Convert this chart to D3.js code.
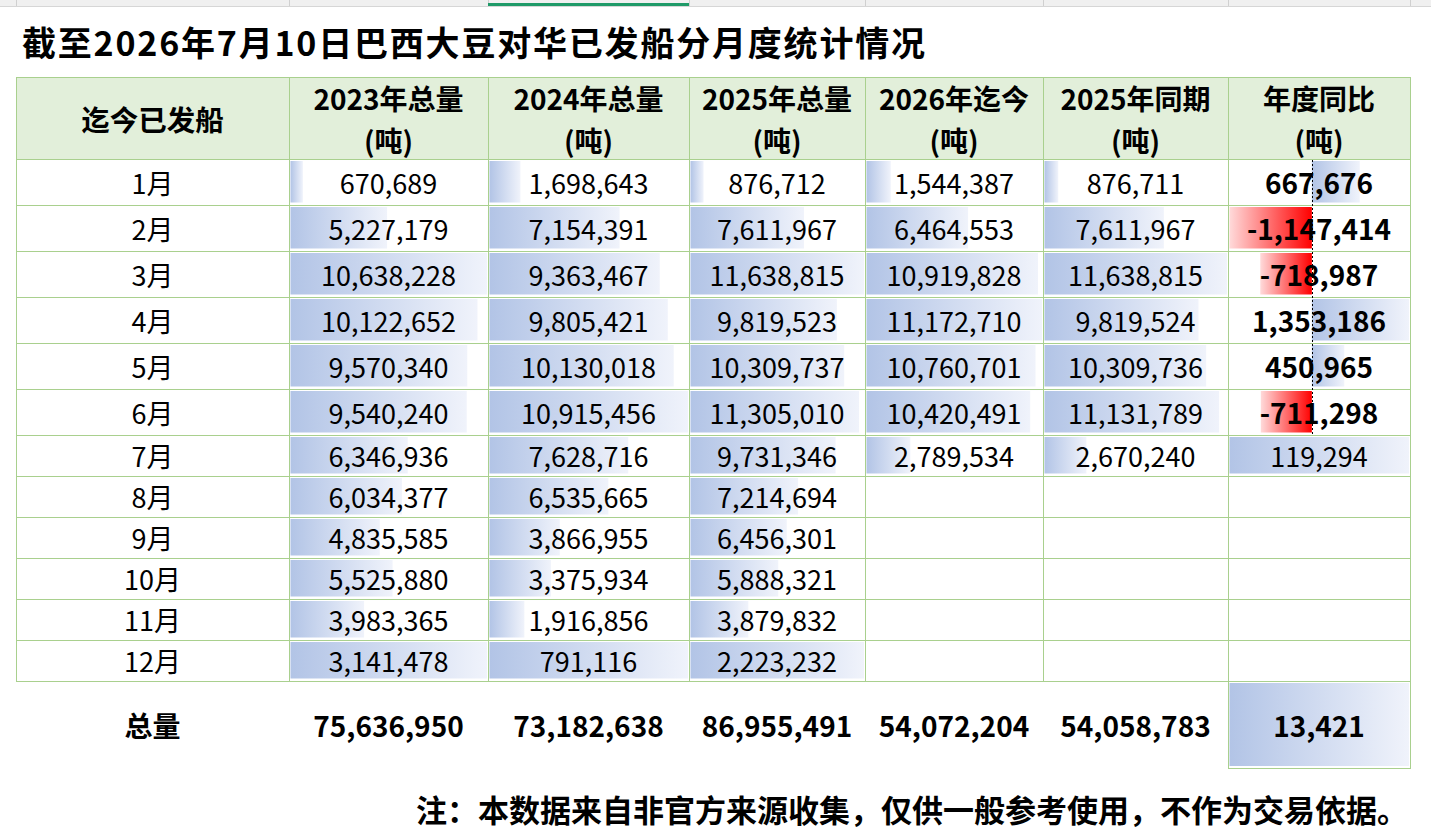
<!DOCTYPE html>
<html lang="zh">
<head>
<meta charset="UTF-8">
<title>巴西大豆对华已发船分月度统计</title>
<script src="https://d3js.org/d3.v7.min.js"></script>
<style>
    body { margin: 0; background: #fff; }
    svg text { font-family: "Noto Sans CJK SC", "Noto Sans", sans-serif; fill: #000; }
</style>
</head>
<body>
<svg id="viz"></svg>
<script>
    // ---- data ----
    var months = ['1月', '2月', '3月', '4月', '5月', '6月', '7月', '8月', '9月', '10月', '11月', '12月'];
    var y2023 = [670689, 5227179, 10638228, 10122652, 9570340, 9540240, 6346936, 6034377, 4835585, 5525880, 3983365, 3141478];
    var y2024 = [1698643, 7154391, 9363467, 9805421, 10130018, 10915456, 7628716, 6535665, 3866955, 3375934, 1916856, 791116];
    var y2025 = [876712, 7611967, 11638815, 9819523, 10309737, 11305010, 9731346, 7214694, 6456301, 5888321, 3879832, 2223232];
    var y2026 = [1544387, 6464553, 10919828, 11172710, 10760701, 10420491, 2789534, null, null, null, null, null];
    var same2025 = [876711, 7611967, 11638815, 9819524, 10309736, 11131789, 2670240, null, null, null, null, null];
    var yoy = [667676, -1147414, -718987, 1353186, 450965, -711298, 119294, null, null, null, null, null];
    var totals = [75636950, 73182638, 86955491, 54072204, 54058783, 13421];
    var headers = ['2023年总量', '2024年总量', '2025年总量', '2026年迄今', '2025年同期', '年度同比'];

    var title = '截至2026年7月10日巴西大豆对华已发船分月度统计情况';
    var note = '注：本数据来自非官方来源收集，仅供一般参考使用，不作为交易依据。';

    // cells whose data bar was formatted on its own (bar fills the cell)
    var soloRows = [['12月'], ['12月'], ['12月'], [], [], ['7月']];
    // bold cells in the 年度同比 column
    var boldYoy = ['1月', '2月', '3月', '4月', '5月', '6月'];

    var series = [y2023, y2024, y2025, y2026, same2025, yoy];

    // ---- layout ----
    var W = 1431, H = 839;
    var colWidths = [273, 199, 201, 176, 178, 185, 182];
    var rowHeights = [46, 46, 46, 46, 46, 46, 41, 41, 41, 41, 41, 41];
    var tableLeft = 16, headTop = 77, headH = 82, totalH = 87;
    var grid = '#a9d08e';

    var colEdges = [tableLeft].concat(Array.from(d3.cumsum(colWidths), function (d) { return tableLeft + d; }));
    var rowTop = d3.scaleOrdinal()
        .domain(months)
        .range([headTop + headH].concat(Array.from(d3.cumsum(rowHeights), function (d) { return headTop + headH + d; })));
    var rowH = d3.scaleOrdinal().domain(months).range(rowHeights);
    var bodyBottom = headTop + headH + d3.sum(rowHeights);
    // plain hyphen for negatives, like the sheet
    var fmt = d3.formatLocale({ decimal: '.', thousands: ',', grouping: [3], currency: ['', ''], minus: '-' }).format(',');

    var svg = d3.select('#viz').attr('width', W).attr('height', H);

    var defs = svg.append('defs');
    var blue = defs.append('linearGradient').attr('id', 'blueBar');
    blue.append('stop').attr('offset', '0%').attr('stop-color', '#b2c4e6');
    blue.append('stop').attr('offset', '100%').attr('stop-color', '#f0f3fb');
    var red = defs.append('linearGradient').attr('id', 'redBar');
    red.append('stop').attr('offset', '0%').attr('stop-color', '#ffdada');
    red.append('stop').attr('offset', '100%').attr('stop-color', '#ff0000');

    // spreadsheet column-header strip at the very top
    svg.append('rect').attr('x', 0).attr('y', 0).attr('width', W).attr('height', 6).attr('fill', '#f0f0f0');
    svg.append('line').attr('x1', 0).attr('x2', W).attr('y1', 6.5).attr('y2', 6.5).attr('stroke', '#d6d6d6');
    svg.selectAll('.stripSep').data(colEdges).enter().append('line')
        .attr('x1', function (d) { return d + 0.5; }).attr('x2', function (d) { return d + 0.5; })
        .attr('y1', 0).attr('y2', 6).attr('stroke', '#d0d0d0');
    svg.append('rect').attr('x', colEdges[2]).attr('y', 3).attr('width', colEdges[3] - colEdges[2]).attr('height', 3)
        .attr('fill', '#1f9a68');

    // title
    svg.append('text').attr('x', 22).attr('y', 41)
        .attr('dominant-baseline', 'central')
        .attr('font-size', 34).attr('font-weight', 700)
        .attr('textLength', 903).attr('lengthAdjust', 'spacing')
        .text(title);

    // header background
    svg.append('rect').attr('x', tableLeft).attr('y', headTop)
        .attr('width', colEdges[colEdges.length - 1] - tableLeft).attr('height', headH)
        .attr('fill', '#e2efda');

    // ---- data bars ----
    var barLayer = svg.append('g');
    var axisSpecs = [];
    series.forEach(function (vals, ci) {
        var x0 = colEdges[ci + 1] + 1.5, x1 = colEdges[ci + 2] - 1;
        var rows = months.map(function (m, i) { return { m: m, v: vals[i] }; })
            .filter(function (d) { return d.v !== null; });
        var grouped = rows.filter(function (d) { return soloRows[ci].indexOf(d.m) < 0; });
        var lo = Math.min(0, d3.min(grouped, function (d) { return d.v; }));
        var hi = d3.max(grouped, function (d) { return d.v; });
        var x = d3.scaleLinear().domain([lo, hi]).range([x0, x1]);

        rows.forEach(function (d) {
            var top = rowTop(d.m) + 2, h = rowH(d.m) - 4.5;
            var solo = soloRows[ci].indexOf(d.m) >= 0;
            var sx = solo ? d3.scaleLinear().domain([0, d.v]).range([x0, x1]) : x;
            var a = sx(0), b = sx(d.v);
            barLayer.append('rect')
                .attr('x', Math.min(a, b)).attr('y', top)
                .attr('width', Math.abs(b - a)).attr('height', h)
                .attr('fill', d.v < 0 ? 'url(#redBar)' : 'url(#blueBar)');
        });

        if (lo < 0) {
            var first = grouped[0].m, last = grouped[grouped.length - 1].m;
            axisSpecs.push({ x: Math.round(x(0)) + 0.5, y1: rowTop(first), y2: rowTop(last) + rowH(last) });
        }
    });

    // total cell bar (formatted on its own)
    var lastL = colEdges[6], lastR = colEdges[7];
    var xt = d3.scaleLinear().domain([0, totals[5]]).range([lastL + 1.5, lastR - 1]);
    barLayer.append('rect').attr('x', xt(0)).attr('y', bodyBottom + 2)
        .attr('width', xt(totals[5]) - xt(0)).attr('height', totalH - 4)
        .attr('fill', 'url(#blueBar)');

    // ---- grid ----
    var gridG = svg.append('g').attr('stroke', grid).attr('stroke-width', 1);
    var hLines = [headTop, headTop + headH].concat(months.map(function (m) { return rowTop(m) + rowH(m); }));
    gridG.selectAll('.h').data(hLines).enter().append('line')
        .attr('x1', tableLeft).attr('x2', colEdges[7] + 1)
        .attr('y1', function (d) { return d + 0.5; }).attr('y2', function (d) { return d + 0.5; });
    gridG.selectAll('.v').data(colEdges).enter().append('line')
        .attr('x1', function (d) { return d + 0.5; }).attr('x2', function (d) { return d + 0.5; })
        .attr('y1', headTop).attr('y2', bodyBottom + 1);
    gridG.append('rect').attr('x', lastL + 0.5).attr('y', bodyBottom + 0.5)
        .attr('width', lastR - lastL).attr('height', totalH)
        .attr('fill', 'none');

    // zero axis of the 年度同比 bars, above the grid
    svg.selectAll('.axisZero').data(axisSpecs).enter().append('line')
        .attr('class', 'axisZero')
        .attr('x1', function (d) { return d.x; }).attr('x2', function (d) { return d.x; })
        .attr('y1', function (d) { return d.y1 + 1; }).attr('y2', function (d) { return d.y2; })
        .attr('stroke', '#000').attr('stroke-width', 1).attr('stroke-dasharray', '2,2');

    // ---- header text ----
    var cx = function (ci) { return (colEdges[ci] + colEdges[ci + 1]) / 2; };
    svg.append('text').attr('x', cx(0)).attr('y', headTop + headH / 2)
        .attr('text-anchor', 'middle').attr('dominant-baseline', 'central')
        .attr('font-size', 28.5).attr('font-weight', 700).text('迄今已发船');
    headers.forEach(function (h, i) {
        svg.append('text').attr('x', cx(i + 1)).attr('y', headTop + 21)
            .attr('text-anchor', 'middle').attr('dominant-baseline', 'central')
            .attr('font-size', 28).attr('font-weight', 700).text(h);
        svg.append('text').attr('x', cx(i + 1)).attr('y', headTop + 63)
            .attr('text-anchor', 'middle').attr('dominant-baseline', 'central')
            .attr('font-size', 28).attr('font-weight', 700).text('(吨)');
    });

    // ---- body text ----
    months.forEach(function (m, ri) {
        var cy = rowTop(m) + rowH(m) / 2;
        svg.append('text').attr('x', cx(0)).attr('y', cy)
            .attr('text-anchor', 'middle').attr('dominant-baseline', 'central')
            .attr('font-size', 27).text(m);
        series.forEach(function (vals, ci) {
            if (vals[ri] === null) return;
            var bold = ci === 5 && boldYoy.indexOf(m) >= 0;
            svg.append('text').attr('x', cx(ci + 1)).attr('y', cy)
                .attr('text-anchor', 'middle').attr('dominant-baseline', 'central')
                .attr('font-size', bold ? 28 : 27).attr('font-weight', bold ? 700 : 400)
                .text(fmt(vals[ri]));
        });
    });

    // ---- total row ----
    var ty = bodyBottom + totalH / 2;
    svg.append('text').attr('x', cx(0)).attr('y', ty)
        .attr('text-anchor', 'middle').attr('dominant-baseline', 'central')
        .attr('font-size', 28).attr('font-weight', 700).text('总量');
    totals.forEach(function (t, i) {
        svg.append('text').attr('x', cx(i + 1)).attr('y', ty)
            .attr('text-anchor', 'middle').attr('dominant-baseline', 'central')
            .attr('font-size', 28).attr('font-weight', 700).text(fmt(t));
    });

    // footnote
    svg.append('text').attr('x', 1408).attr('y', 808)
        .attr('text-anchor', 'end').attr('dominant-baseline', 'central')
        .attr('font-size', 31).attr('font-weight', 700).text(note);
</script>
</body>
</html>
